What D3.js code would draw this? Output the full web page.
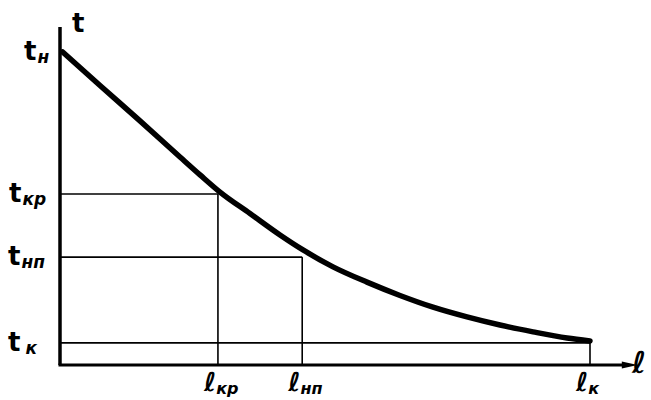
<!DOCTYPE html>
<html>
<head>
<meta charset="utf-8">
<script src="https://cdn.jsdelivr.net/npm/d3@7"></script>
<style>
  body { margin: 0; background: #fff; }
  svg text { font-family: "DejaVu Sans", sans-serif; font-weight: bold; fill: #000; }
</style>
</head>
<body>
<div id="chart"></div>
<script>
// curve: length along pipe (l) vs temperature (t), arbitrary units
const curveL = [0.5, 7.55, 15.09, 22.64, 26.42, 30.19, 35.85, 41.51, 45.85, 51.51, 57.92, 64.15, 70.38, 76.79, 83.02, 89.25, 95.66, 100];
const curveT = [96.3, 86.0, 75.1, 64.0, 58.5, 53.2, 46.6, 40.0, 35.4, 30.2, 25.5, 21.4, 17.8, 14.8, 12.3, 10.2, 8.3, 7.4];

// marked temperatures on the t axis
const tSubs = ["н", "кр", "нп", "к"];
const tVals = [96.3, 52.6, 33.2, 6.8];

// marked lengths on the l axis
const lSubs = ["кр", "нп", "к"];
const lVals = [29.8, 45.7, 100];

const width = 651, height = 400;

const svg = d3.select('#chart')
    .append('svg')
    .attr('width', width)
    .attr('height', height);

const x = d3.scaleLinear().domain([0, 100]).range([60, 590]);
const y = d3.scaleLinear().domain([0, 100]).range([365, 40]);

// guide lines for t_kp and t_np (to their l points)
[0, 1].forEach(i => {
    const tv = tVals[i + 1], lv = lVals[i];
    svg.append('line')
        .attr('x1', x(0)).attr('x2', x(lv))
        .attr('y1', y(tv)).attr('y2', y(tv))
        .attr('stroke', '#000').attr('stroke-width', 1.6);
    svg.append('line')
        .attr('x1', x(lv)).attr('x2', x(lv))
        .attr('y1', y(tv)).attr('y2', y(0))
        .attr('stroke', '#000').attr('stroke-width', 1.6);
});

// t_k line and l_k vertical
svg.append('line')
    .attr('x1', x(0)).attr('x2', x(lVals[2]))
    .attr('y1', y(tVals[3])).attr('y2', y(tVals[3]))
    .attr('stroke', '#000').attr('stroke-width', 1.6);
svg.append('line')
    .attr('x1', x(lVals[2])).attr('x2', x(lVals[2]))
    .attr('y1', y(curveT[curveT.length - 1])).attr('y2', y(0))
    .attr('stroke', '#000').attr('stroke-width', 1.6);

// axes
svg.append('line')
    .attr('x1', x(0)).attr('x2', x(0))
    .attr('y1', y(104)).attr('y2', y(0))
    .attr('stroke', '#000').attr('stroke-width', 3.5);
svg.append('line')
    .attr('x1', x(0) - 1.5).attr('x2', x(107))
    .attr('y1', y(0)).attr('y2', y(0))
    .attr('stroke', '#000').attr('stroke-width', 3);
svg.append('path')
    .attr('d', `M${x(109)},${y(0)} L${x(106)},${y(0) - 3.5} L${x(106)},${y(0) + 3.5} Z`)
    .attr('fill', '#000');

// main curve
const pts = curveL.map((l, i) => ({ l: l, t: curveT[i] }));
const line = d3.line()
    .x(d => x(d.l))
    .y(d => y(d.t))
    .curve(d3.curveMonotoneX);

svg.append('path')
    .datum(pts)
    .attr('d', line)
    .attr('fill', 'none')
    .attr('stroke', '#000')
    .attr('stroke-width', 5.5)
    .attr('stroke-linecap', 'round');

// axis names
svg.append('text').attr('x', 72).attr('y', 32).style('font-size', '26px').text('t');
svg.append('text').attr('x', 632).attr('y', 373).style('font-size', '30px').style('font-style', 'italic').text('ℓ');

// t labels
const tX = [24, 9, 8, 8];
tSubs.forEach((s, i) => {
    const txt = svg.append('text')
        .attr('x', tX[i])
        .attr('y', y(tVals[i]) + 8);
    txt.append('tspan').style('font-size', '26px').text('t');
    txt.append('tspan').style('font-size', '17px').style('font-style', 'italic')
        .attr('dx', i == 3 ? 5 : 1).attr('dy', 3).text(s);
});

// l labels
lSubs.forEach((s, i) => {
    const txt = svg.append('text')
        .attr('x', x(lVals[i]) - 14)
        .attr('y', 391);
    txt.append('tspan').style('font-size', '26px').style('font-style', 'italic').text('ℓ');
    txt.append('tspan').style('font-size', '16px').style('font-style', 'italic')
        .attr('dx', 0).attr('dy', 3).text(s);
});
</script>
</body>
</html>
